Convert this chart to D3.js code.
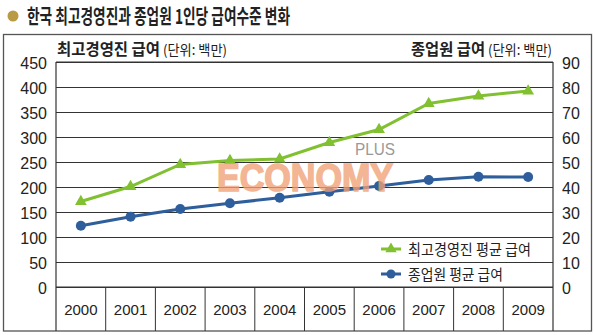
<!DOCTYPE html>
<html>
<head>
<meta charset="utf-8">
<script src="https://cdn.jsdelivr.net/npm/d3@7"></script>
<style>
  html, body { margin: 0; padding: 0; background: #fff; }
  svg { display: block; }
  .num { font-family: "Liberation Sans", Arial, sans-serif; }
  .kr { font-family: "Noto Sans CJK KR", "Noto Sans", sans-serif; }
</style>
</head>
<body>
<svg id="chart" width="595" height="335"></svg>
<script>
// ---- data ----
const years = ["2000","2001","2002","2003","2004","2005","2006","2007","2008","2009"];
const execPay = [171, 201, 245, 253, 256, 289, 315, 367, 382, 392];       // left axis
const empPay = [24.5, 28.1, 31.2, 33.5, 35.7, 38.1, 40.4, 42.8, 44.1, 44.0]; // right axis
const leftTicks = [0, 50, 100, 150, 200, 250, 300, 350, 400, 450];
const rightTicks = [0, 10, 20, 30, 40, 50, 60, 70, 80, 90];
const titleText = "한국 최고경영진과 종업원 1인당 급여수준 변화";
const legendLabels = ["최고경영진 평균 급여", "종업원 평균 급여"];

// ---- layout ----
const svg = d3.select("#chart");
const X0 = 56, X1 = 553, YT = 62, YB = 287, YBOT = 331;
const green = "#80c031", blue = "#2e5e9b", gridC = "#333";

const x = d3.scaleBand().domain(years).range([X0, X1]);
const yL = d3.scaleLinear().domain([0, 450]).range([YB, YT]);
const yR = d3.scaleLinear().domain([0, 90]).range([YB, YT]);

// outer frame
svg.append("rect").attr("x", 3.5).attr("y", 34.5).attr("width", 588).attr("height", 296.5)
  .attr("fill", "none").attr("stroke", "#555").attr("stroke-width", 1.3);

// title
svg.append("circle").attr("cx", 13).attr("cy", 16).attr("r", 5.5).attr("fill", "#b99a45");
svg.append("text").attr("class", "kr").attr("x", 27).attr("y", 24)
  .attr("font-size", 20).attr("font-weight", "bold").attr("fill", "#222")
  .attr("textLength", 263).attr("lengthAdjust", "spacingAndGlyphs").text(titleText);

// axis titles
const at = svg.append("g").attr("class", "kr").attr("fill", "#222");
at.append("text").attr("x", 57).attr("y", 55).attr("font-size", 16).attr("font-weight", "bold")
  .attr("textLength", 103).attr("lengthAdjust", "spacingAndGlyphs").text("최고경영진 급여");
at.append("text").attr("x", 163).attr("y", 55).attr("font-size", 14)
  .attr("textLength", 64).attr("lengthAdjust", "spacingAndGlyphs").text("(단위: 백만)");
at.append("text").attr("x", 411).attr("y", 55).attr("font-size", 16).attr("font-weight", "bold")
  .attr("textLength", 74).attr("lengthAdjust", "spacingAndGlyphs").text("종업원 급여");
at.append("text").attr("x", 488).attr("y", 55).attr("font-size", 14)
  .attr("textLength", 64).attr("lengthAdjust", "spacingAndGlyphs").text("(단위: 백만)");

// left axis with gridlines
const gL = svg.append("g").attr("transform", `translate(${X0},0)`)
  .call(d3.axisLeft(yL).tickValues(leftTicks).tickSize(-(X1 - X0)).tickPadding(9));
gL.select(".domain").remove();
gL.selectAll("line").attr("stroke", gridC).attr("stroke-width", 1);
gL.selectAll("text").attr("class", "num").attr("font-size", 16).attr("fill", "#222").attr("dy", "0.42em");

// right axis labels
const gR = svg.append("g").attr("transform", `translate(${X1},0)`)
  .call(d3.axisRight(yR).tickValues(rightTicks).tickSize(0).tickPadding(9));
gR.select(".domain").remove();
gR.selectAll("text").attr("class", "num").attr("font-size", 16).attr("fill", "#222").attr("dy", "0.42em");

// bottom axis labels
const gB = svg.append("g").attr("transform", `translate(0,${YB})`)
  .call(d3.axisBottom(x).tickSize(0).tickPadding(17));
gB.select(".domain").remove();
gB.selectAll("text").attr("class", "num").attr("font-size", 15).attr("fill", "#222");

// frame of plot + category dividers
const fr = svg.append("g").attr("stroke", gridC).attr("stroke-width", 1.2);
fr.append("line").attr("x1", X0).attr("x2", X0).attr("y1", YT).attr("y2", YBOT);
fr.append("line").attr("x1", X1).attr("x2", X1).attr("y1", YT).attr("y2", YBOT);
fr.append("line").attr("x1", X0).attr("x2", X1).attr("y1", YT).attr("y2", YT);
fr.append("line").attr("x1", X0).attr("x2", X1).attr("y1", YB).attr("y2", YB);
fr.selectAll(".div").data(years.slice(1)).enter().append("line")
  .attr("x1", d => x(d)).attr("x2", d => x(d)).attr("y1", YB).attr("y2", YBOT)
  .attr("stroke-width", 1);

// series
const cx = d => x(d) + x.bandwidth() / 2;
const lineL = d3.line().x((d, i) => cx(years[i])).y(d => yL(d));
const lineR = d3.line().x((d, i) => cx(years[i])).y(d => yR(d));

svg.append("path").datum(execPay).attr("d", lineL).attr("fill", "none")
  .attr("stroke", green).attr("stroke-width", 3);
svg.selectAll(".tri").data(execPay).enter().append("path")
  .attr("d", d3.symbol().type(d3.symbolTriangle).size(60))
  .attr("transform", (d, i) => `translate(${cx(years[i])},${yL(d)})`)
  .attr("fill", green);

svg.append("path").datum(empPay).attr("d", lineR).attr("fill", "none")
  .attr("stroke", blue).attr("stroke-width", 3);
svg.selectAll(".dot").data(empPay).enter().append("circle")
  .attr("cx", (d, i) => cx(years[i])).attr("cy", d => yR(d)).attr("r", 5)
  .attr("fill", blue);

// watermark
svg.append("text").attr("class", "num").attr("x", 217).attr("y", 191)
  .attr("font-size", 38).attr("font-weight", "bold").attr("fill", "#f0a176")
  .attr("stroke", "#f0a176").attr("stroke-width", 1.6).attr("opacity", 0.78)
  .attr("textLength", 176).attr("lengthAdjust", "spacingAndGlyphs").text("ECONOMY");
svg.append("text").attr("class", "num").attr("x", 355).attr("y", 155)
  .attr("font-size", 16).attr("fill", "#999")
  .attr("textLength", 40).attr("lengthAdjust", "spacingAndGlyphs").text("PLUS");

// legend
const lg = svg.append("g");
const rows = [{y: 249, c: green, t: legendLabels[0], w: 123, tri: true},
              {y: 274, c: blue, t: legendLabels[1], w: 95, tri: false}];
rows.forEach(r => {
  lg.append("line").attr("x1", 381).attr("x2", 401).attr("y1", r.y).attr("y2", r.y)
    .attr("stroke", r.c).attr("stroke-width", 3);
  if (r.tri) {
    lg.append("path").attr("d", d3.symbol().type(d3.symbolTriangle).size(55))
      .attr("transform", `translate(391,${r.y})`).attr("fill", r.c);
  } else {
    lg.append("circle").attr("cx", 391).attr("cy", r.y).attr("r", 4.5).attr("fill", r.c);
  }
  lg.append("text").attr("class", "kr").attr("x", 408).attr("y", r.y + 6)
    .attr("font-size", 15).attr("fill", "#222")
    .attr("textLength", r.w).attr("lengthAdjust", "spacingAndGlyphs").text(r.t);
});
</script>
</body>
</html>
